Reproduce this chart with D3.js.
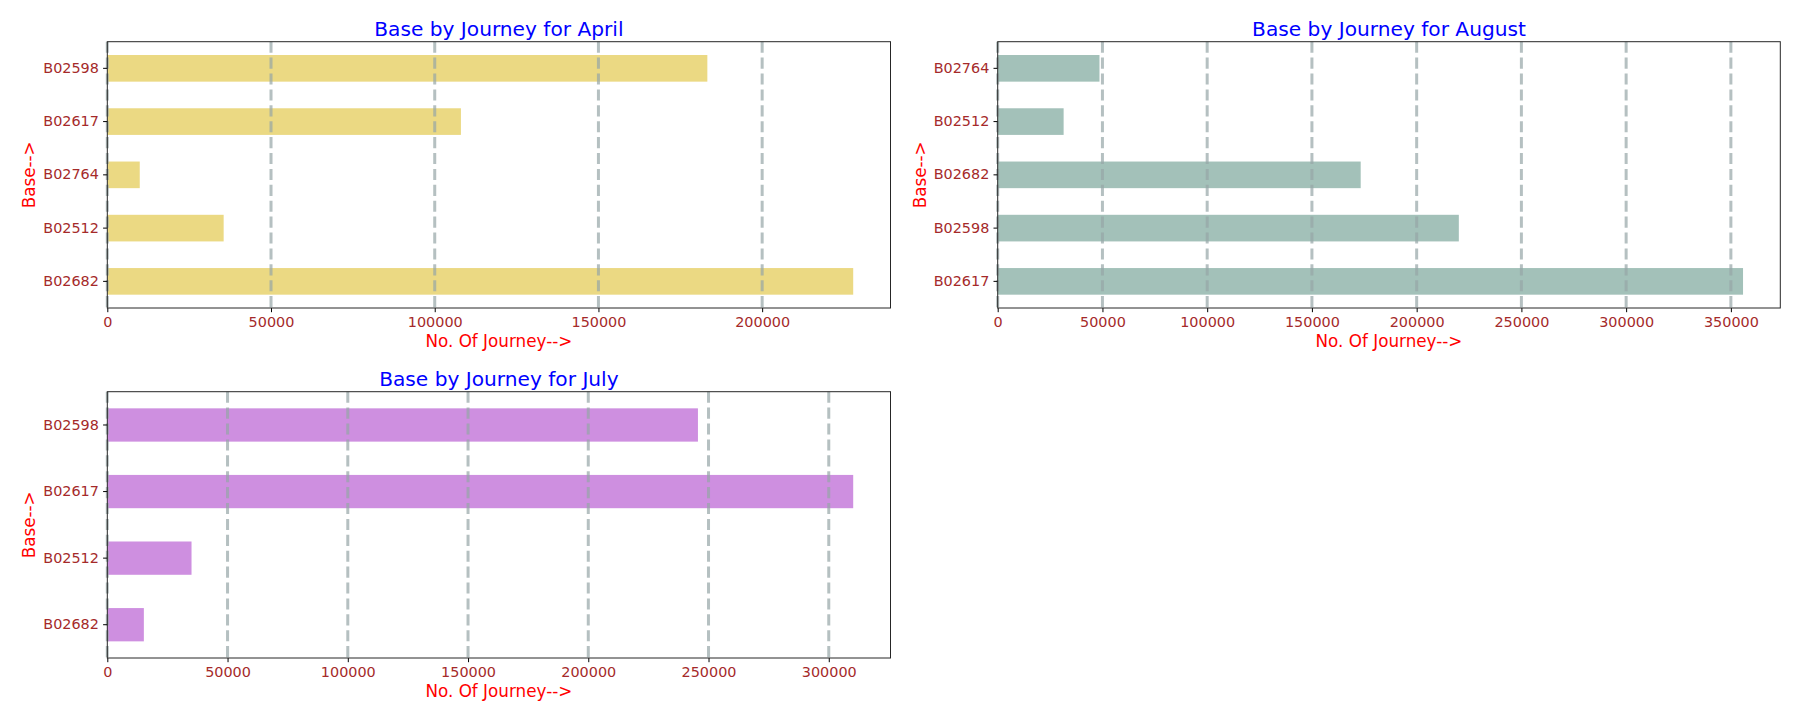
<!DOCTYPE html>
<html>
<head>
<meta charset="utf-8">
<script src="https://cdn.jsdelivr.net/npm/d3@7"></script>
<style>
  html, body { margin: 0; padding: 0; background: #ffffff; }
  svg { display: block; }
  text { font-family: "DejaVu Sans", sans-serif; }
</style>
</head>
<body>
<svg id="chart" width="1800" height="720"></svg>
<script>
// ---- data (categories listed top to bottom as drawn) ----
const aprilBases  = ["B02598", "B02617", "B02764", "B02512", "B02682"];
const aprilTrips  = [183263, 108001, 9908, 35536, 227808];
const augustBases = ["B02764", "B02512", "B02682", "B02598", "B02617"];
const augustTrips = [48591, 31472, 173280, 220129, 355803];
const julyBases   = ["B02598", "B02617", "B02512", "B02682"];
const julyTrips   = [245597, 310160, 35021, 15200];

const aprilTicks  = [0, 50000, 100000, 150000, 200000];
const augustTicks = [0, 50000, 100000, 150000, 200000, 250000, 300000, 350000];
const julyTicks   = [0, 50000, 100000, 150000, 200000, 250000, 300000];

const titles = ["Base by Journey for April", "Base by Journey for August", "Base by Journey for July"];
const xLabelText = "No. Of Journey-->";
const yLabelText = "Base-->";

// ---- layout ----
const svg = d3.select("#chart");
const panels = [
  { title: titles[0], bases: aprilBases,  trips: aprilTrips,  ticks: aprilTicks,
    color: "#ebd983", x0: 107.3, x1: 890.5, y0: 41.7, y1: 308 },
  { title: titles[1], bases: augustBases, trips: augustTrips, ticks: augustTicks,
    color: "#a3c1b9", x0: 997.7, x1: 1780.3, y0: 41.7, y1: 308 },
  { title: titles[2], bases: julyBases,   trips: julyTrips,   ticks: julyTicks,
    color: "#ce8fe0", x0: 107.3, x1: 890.5, y0: 391.7, y1: 658 }
];

const tickFont = 14.4, labelFont = 16.8, titleFont = 20.16;
const tickLen = 4.2, tickPad = 4.2;

panels.forEach(p => {
  const g = svg.append("g");
  const maxV = d3.max(p.trips);
  const x = d3.scaleLinear().domain([0, maxV * 1.05]).range([p.x0, p.x1]);
  const y = d3.scaleBand().domain(p.bases).range([p.y0, p.y1]).paddingInner(0.5).paddingOuter(0.25);

  // bars
  g.append("g").selectAll("rect")
    .data(p.bases.map((b, i) => ({ base: b, v: p.trips[i] })))
    .join("rect")
    .attr("x", x(0))
    .attr("y", d => y(d.base))
    .attr("width", d => x(d.v) - x(0))
    .attr("height", y.bandwidth())
    .attr("fill", p.color);

  // vertical dashed grid (drawn on top, semi transparent)
  g.append("g").selectAll("line")
    .data(p.ticks)
    .join("line")
    .attr("x1", d => x(d)).attr("x2", d => x(d))
    .attr("y1", p.y0).attr("y2", p.y1)
    .attr("stroke", "#95a5a6")
    .attr("stroke-opacity", 0.7)
    .attr("stroke-width", 3)
    .attr("stroke-dasharray", "11.1,4.8");

  // x axis
  const xAxis = d3.axisBottom(x).tickValues(p.ticks).tickFormat(d3.format("d"))
    .tickSize(tickLen).tickPadding(tickPad);
  const gx = g.append("g").attr("transform", `translate(0,${p.y1})`).call(xAxis);
  gx.attr("font-size", tickFont).attr("font-family", "DejaVu Sans, sans-serif");
  gx.select(".domain").remove();
  gx.selectAll(".tick line").attr("stroke", "#000").attr("stroke-width", 1);
  gx.selectAll(".tick text").attr("fill", "#a52a2a");

  // y axis
  const yAxis = d3.axisLeft(y).tickSize(tickLen).tickPadding(tickPad);
  const gy = g.append("g").attr("transform", `translate(${p.x0},0)`).call(yAxis);
  gy.attr("font-size", tickFont).attr("font-family", "DejaVu Sans, sans-serif");
  gy.select(".domain").remove();
  gy.selectAll(".tick line").attr("stroke", "#000").attr("stroke-width", 1);
  gy.selectAll(".tick text").attr("fill", "#a52a2a");

  // frame
  g.append("rect")
    .attr("x", p.x0).attr("y", p.y0)
    .attr("width", p.x1 - p.x0).attr("height", p.y1 - p.y0)
    .attr("fill", "none").attr("stroke", "#262626").attr("stroke-width", 1);

  // title
  g.append("text")
    .attr("x", (p.x0 + p.x1) / 2).attr("y", p.y0 - 6)
    .attr("text-anchor", "middle")
    .attr("font-size", titleFont).attr("fill", "#0000ff")
    .text(p.title);

  // x label
  g.append("text")
    .attr("x", (p.x0 + p.x1) / 2).attr("y", p.y1 + 38.5)
    .attr("text-anchor", "middle")
    .attr("font-size", labelFont).attr("fill", "#ff0000")
    .text(xLabelText);

  // y label
  g.append("text")
    .attr("transform", `translate(${p.x0 - 72},${(p.y0 + p.y1) / 2}) rotate(-90)`)
    .attr("text-anchor", "middle")
    .attr("font-size", labelFont).attr("fill", "#ff0000")
    .text(yLabelText);
});
</script>
</body>
</html>
